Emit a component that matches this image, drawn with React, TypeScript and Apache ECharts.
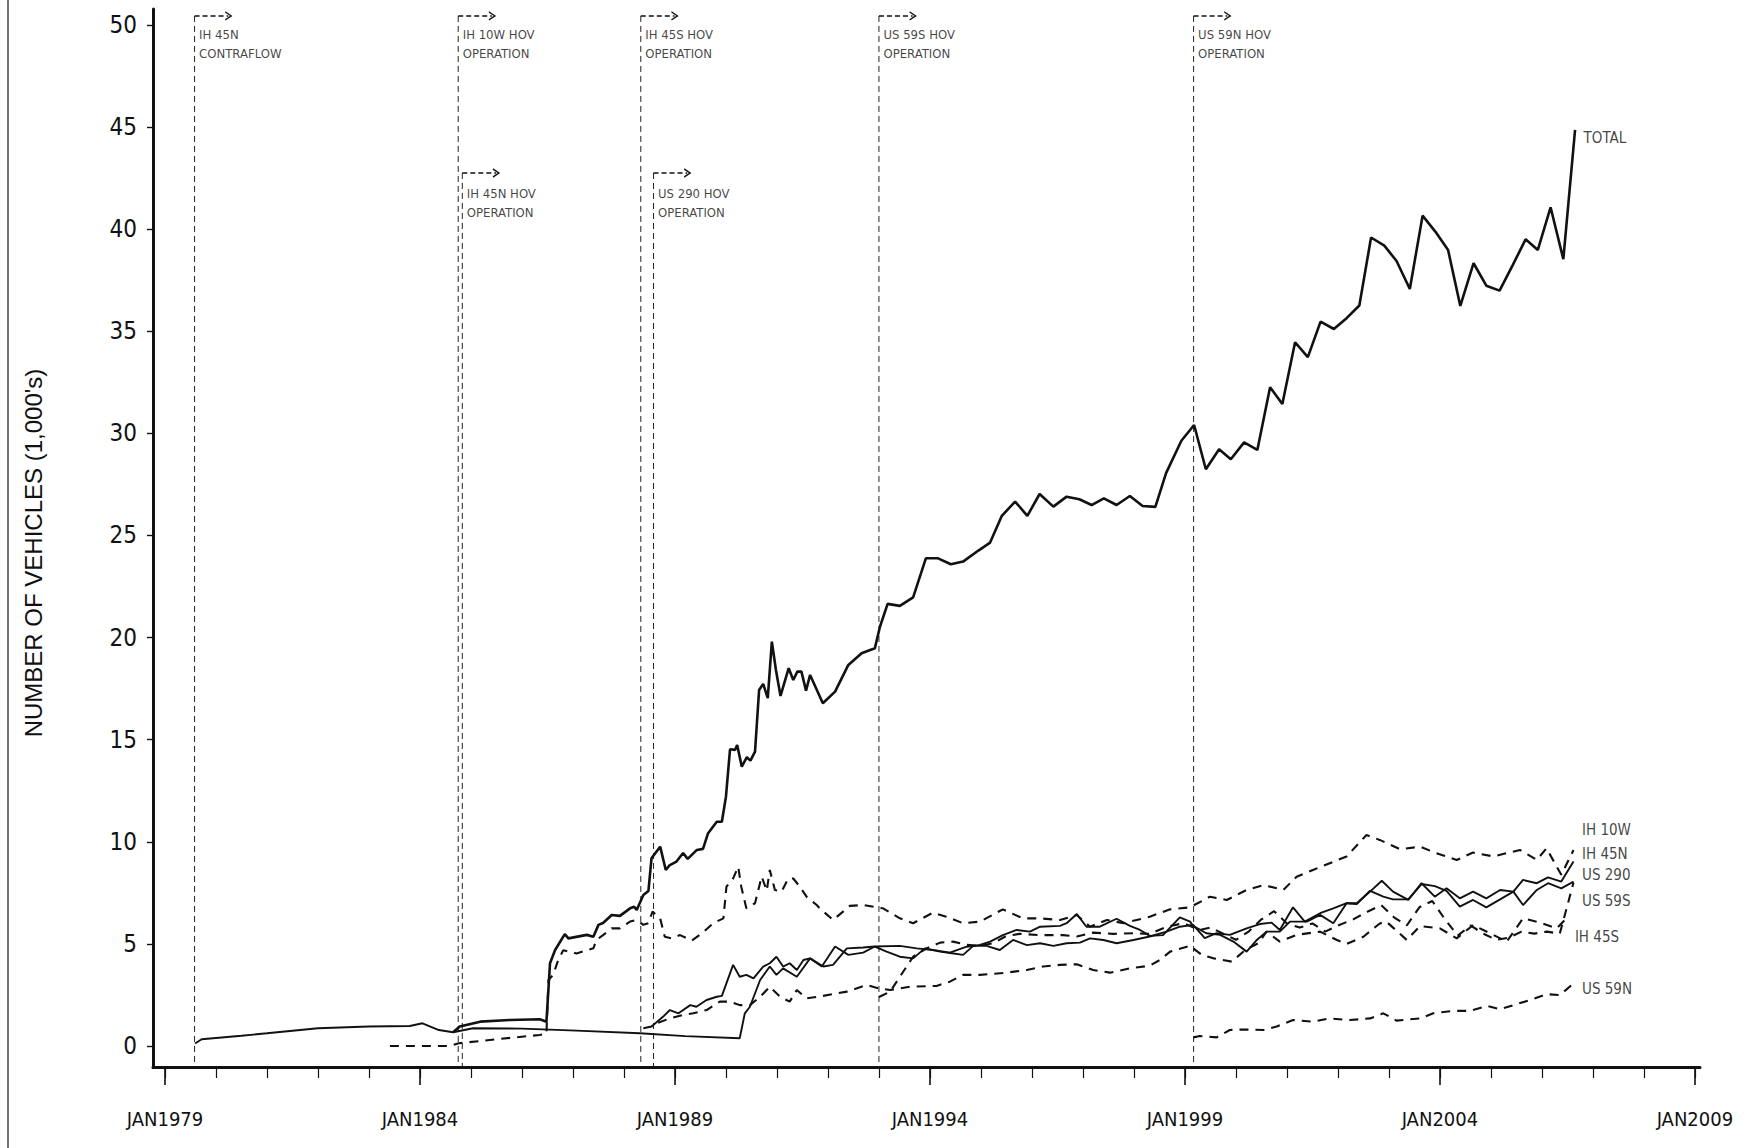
import React, { useEffect, useRef } from "react";
import * as echarts from "echarts";

// ---------- axis settings ----------
const X_MIN = 1978.765;
const X_MAX = 2009.1;
const Y_MIN = -1.03;
const Y_MAX = 50.78;
const majorYears = [1979, 1984, 1989, 1994, 1999, 2004, 2009];
const minorYears = Array.from({ length: 31 }, (_, i) => 1979 + i);
const yTicks = [0, 5, 10, 15, 20, 25, 30, 35, 40, 45, 50];

// ---------- HOV events ----------
const eventYears = [1979.58, 1984.75, 1984.83, 1988.33, 1988.58, 1993.0, 1999.17];
const eventTier = [1, 1, 2, 1, 2, 1, 1];
const eventText = [
  "IH 45N\nCONTRAFLOW",
  "IH 10W HOV\nOPERATION",
  "IH 45N HOV\nOPERATION",
  "IH 45S HOV\nOPERATION",
  "US 290 HOV\nOPERATION",
  "US 59S HOV\nOPERATION",
  "US 59N HOV\nOPERATION",
];

// ---------- series data: [year, thousands of vehicles] ----------
const total = [[1984.65,0.67],[1984.78,0.95],[1985.18,1.19],[1985.76,1.27],[1986.35,1.31],[1986.48,1.19],[1986.55,4.05],[1986.65,4.7],[1986.84,5.48],[1986.91,5.27],[1987.27,5.44],[1987.4,5.35],[1987.5,5.93],[1987.59,6.02],[1987.76,6.41],[1987.92,6.37],[1988.12,6.74],[1988.2,6.82],[1988.25,6.66],[1988.38,7.39],[1988.48,7.59],[1988.54,9.19],[1988.71,9.76],[1988.82,8.62],[1988.9,8.86],[1989.03,9.03],[1989.16,9.45],[1989.25,9.16],[1989.43,9.6],[1989.55,9.65],[1989.65,10.42],[1989.82,10.98],[1989.92,10.98],[1990.0,12.21],[1990.08,14.53],[1990.18,14.5],[1990.22,14.74],[1990.31,13.68],[1990.41,14.14],[1990.48,13.97],[1990.57,14.41],[1990.65,17.43],[1990.73,17.73],[1990.82,17.03],[1990.9,19.8],[1990.98,18.41],[1991.07,17.14],[1991.23,18.5],[1991.32,17.92],[1991.4,18.33],[1991.48,18.33],[1991.57,17.4],[1991.65,18.17],[1991.9,16.78],[1992.14,17.35],[1992.4,18.66],[1992.66,19.23],[1992.92,19.48],[1993.02,20.53],[1993.17,21.65],[1993.41,21.55],[1993.67,21.97],[1993.92,23.88],[1994.16,23.88],[1994.41,23.59],[1994.65,23.72],[1994.95,24.26],[1995.18,24.65],[1995.41,25.96],[1995.67,26.66],[1995.91,25.96],[1996.15,27.03],[1996.42,26.41],[1996.68,26.9],[1996.93,26.77],[1997.17,26.49],[1997.41,26.82],[1997.66,26.49],[1997.92,26.93],[1998.17,26.44],[1998.42,26.4],[1998.63,28.05],[1998.93,29.64],[1999.18,30.41],[1999.41,28.24],[1999.67,29.22],[1999.9,28.73],[2000.16,29.56],[2000.42,29.19],[2000.67,32.26],[2000.91,31.44],[2001.16,34.46],[2001.41,33.73],[2001.66,35.47],[2001.92,35.11],[2002.17,35.64],[2002.42,36.26],[2002.65,39.59],[2002.91,39.19],[2003.15,38.44],[2003.41,37.07],[2003.66,40.66],[2003.91,39.88],[2004.16,38.98],[2004.4,36.24],[2004.66,38.33],[2004.91,37.23],[2005.17,36.99],[2005.43,38.25],[2005.68,39.5],[2005.92,38.98],[2006.17,41.07],[2006.42,38.53],[2006.65,44.86]];

const ih10w = [[1983.41,0.0],[1984.59,0.0],[1984.76,0.13],[1985.5,0.33],[1986.35,0.54],[1986.48,0.6],[1986.52,3.23],[1986.61,3.48],[1986.71,4.2],[1986.81,4.69],[1987.07,4.53],[1987.27,4.69],[1987.4,4.78],[1987.46,5.19],[1987.59,5.43],[1987.76,5.76],[1987.92,5.76],[1988.12,6.09],[1988.25,6.17],[1988.38,5.93],[1988.48,6.01],[1988.56,6.58],[1988.71,6.25],[1988.8,5.35],[1988.93,5.27],[1989.1,5.43],[1989.33,5.16],[1989.53,5.52],[1989.75,6.01],[1989.95,6.25],[1990.01,7.8],[1990.14,8.2],[1990.24,8.78],[1990.3,7.8],[1990.4,6.74],[1990.57,6.99],[1990.7,8.3],[1990.8,7.6],[1990.86,8.62],[1990.96,7.64],[1991.09,7.56],[1991.22,8.2],[1991.32,8.2],[1991.45,7.8],[1991.58,7.31],[1991.78,6.9],[1991.84,6.74],[1992.1,6.17],[1992.43,6.86],[1992.69,6.9],[1993.08,6.74],[1993.41,6.25],[1993.67,6.01],[1994.06,6.53],[1994.32,6.33],[1994.65,6.01],[1994.98,6.09],[1995.43,6.69],[1995.82,6.25],[1996.16,6.25],[1996.55,6.17],[1996.88,6.41],[1997.14,5.84],[1997.47,6.17],[1997.8,6.01],[1998.31,6.33],[1998.71,6.69],[1999.1,6.79],[1999.49,7.31],[1999.82,7.15],[2000.21,7.64],[2000.54,7.88],[2000.93,7.64],[2001.19,8.29],[2001.51,8.62],[2001.84,8.95],[2002.17,9.28],[2002.56,10.33],[2002.82,10.09],[2003.22,9.63],[2003.61,9.76],[2003.93,9.44],[2004.33,9.11],[2004.65,9.47],[2005.05,9.28],[2005.57,9.6],[2005.9,9.11],[2006.09,9.68],[2006.38,8.38],[2006.62,9.6]];

const ih45n = [[1979.59,0.12],[1979.72,0.33],[1980.5,0.5],[1981,0.62],[1982,0.87],[1983,0.95],[1983.8,0.98],[1984.05,1.11],[1984.37,0.78],[1984.65,0.67],[1985.04,0.87],[1986,0.85],[1987.07,0.75],[1988.31,0.62],[1989.2,0.48],[1990.27,0.38],[1990.37,1.6],[1990.47,1.92],[1990.67,3.23],[1990.86,3.89],[1990.99,3.48],[1991.12,3.8],[1991.39,3.39],[1991.65,4.29],[1991.88,3.89],[1992.14,4.87],[1992.4,4.46],[1992.69,4.57],[1992.92,4.87],[1993.15,4.62],[1993.41,4.37],[1993.67,4.29],[1993.9,4.78],[1994.2,4.62],[1994.43,4.54],[1994.65,4.46],[1994.85,4.9],[1995.11,4.9],[1995.37,4.7],[1995.63,5.19],[1995.9,4.94],[1996.16,5.03],[1996.42,4.9],[1996.68,5.03],[1996.94,5.06],[1997.14,5.27],[1997.4,5.19],[1997.66,5.03],[1997.99,5.19],[1998.31,5.36],[1998.64,5.6],[1998.9,5.84],[1999.16,5.93],[1999.39,5.28],[1999.62,5.52],[1999.88,5.44],[2000.21,5.76],[2000.47,5.97],[2000.7,6.04],[2000.86,5.68],[2001.12,6.79],[2001.35,6.09],[2001.65,6.5],[2001.91,6.74],[2002.17,6.99],[2002.37,6.95],[2002.63,7.6],[2002.89,7.31],[2003.08,7.18],[2003.38,7.18],[2003.64,7.93],[2003.9,7.83],[2004.13,7.6],[2004.39,6.82],[2004.65,7.15],[2004.91,6.79],[2005.18,7.18],[2005.44,7.56],[2005.63,8.13],[2005.9,7.97],[2006.12,8.26],[2006.38,8.05],[2006.62,9.03]];

const us290 = [[1988.54,0.95],[1988.77,1.44],[1988.9,1.76],[1989.07,1.6],[1989.3,2.0],[1989.42,1.92],[1989.62,2.25],[1989.82,2.41],[1989.92,2.45],[1990.14,3.97],[1990.27,3.39],[1990.4,3.48],[1990.54,3.31],[1990.73,3.89],[1990.86,4.05],[1990.99,4.37],[1991.12,3.89],[1991.25,4.05],[1991.39,3.72],[1991.52,4.21],[1991.65,4.29],[1991.91,3.89],[1992.1,3.97],[1992.37,4.78],[1992.69,4.82],[1992.92,4.87],[1993.41,4.9],[1993.74,4.78],[1994.06,4.7],[1994.39,4.57],[1994.72,4.86],[1994.98,4.95],[1995.18,5.11],[1995.43,5.43],[1995.7,5.68],[1995.96,5.6],[1996.16,5.84],[1996.55,5.88],[1996.68,6.01],[1996.88,6.46],[1997.07,5.84],[1997.33,5.84],[1997.66,6.23],[1997.92,5.88],[1998.12,5.68],[1998.31,5.39],[1998.57,5.43],[1998.9,6.3],[1999.1,6.09],[1999.16,5.88],[1999.42,5.52],[1999.69,5.44],[1999.95,5.11],[2000.21,4.62],[2000.41,5.19],[2000.6,5.6],[2000.86,5.6],[2001.06,6.09],[2001.39,6.09],[2001.65,6.42],[2001.91,6.01],[2002.17,6.99],[2002.37,6.99],[2002.63,7.56],[2002.86,8.09],[2003.08,7.56],[2003.38,7.15],[2003.64,7.97],[2003.9,7.31],[2004.13,7.72],[2004.39,7.23],[2004.65,7.56],[2004.91,7.23],[2005.18,7.64],[2005.44,7.56],[2005.63,6.9],[2005.9,7.64],[2006.12,7.97],[2006.38,7.72],[2006.62,8.05]];

const us59s = [[1993.0,2.4],[1993.22,2.66],[1993.41,3.39],[1993.67,4.37],[1993.93,4.78],[1994.2,5.06],[1994.45,5.11],[1994.72,4.95],[1994.98,4.9],[1995.24,5.03],[1995.5,5.39],[1995.76,5.49],[1996.16,5.43],[1996.61,5.43],[1996.88,5.36],[1997.2,5.55],[1997.59,5.49],[1997.99,5.52],[1998.31,5.49],[1998.64,5.84],[1998.97,6.01],[1999.29,5.68],[1999.5,5.8],[1999.75,5.5],[2000.0,5.2],[2000.25,5.6],[2000.5,6.2],[2000.75,6.6],[2001.0,6.0],[2001.25,5.8],[2001.5,6.0],[2001.75,5.6],[2002.0,5.9],[2002.3,6.2],[2002.6,6.6],[2002.85,6.9],[2003.1,6.3],[2003.35,5.9],[2003.6,6.8],[2003.85,7.1],[2004.1,6.2],[2004.35,5.4],[2004.6,5.9],[2004.85,5.5],[2005.1,5.2],[2005.35,5.3],[2005.6,5.6],[2005.85,5.5],[2006.1,5.6],[2006.35,5.5],[2006.62,8.0]];

const ih45s = [[1988.38,0.87],[1988.54,0.95],[1988.64,1.11],[1988.9,1.35],[1989.16,1.52],[1989.36,1.6],[1989.62,1.76],[1989.88,2.17],[1990.08,2.17],[1990.27,2.0],[1990.47,2.0],[1990.67,2.41],[1990.86,2.9],[1991.06,2.41],[1991.25,2.17],[1991.39,2.74],[1991.58,2.33],[1991.9,2.45],[1992.37,2.66],[1992.76,2.99],[1993.0,2.82],[1993.22,2.74],[1993.61,2.9],[1994.13,2.94],[1994.39,3.15],[1994.65,3.48],[1994.98,3.48],[1995.5,3.59],[1995.9,3.72],[1996.22,3.89],[1996.55,3.97],[1996.88,4.0],[1997.2,3.72],[1997.53,3.59],[1997.92,3.8],[1998.31,3.93],[1998.51,4.21],[1998.71,4.62],[1999.1,4.9],[1999.33,4.46],[1999.56,4.29],[1999.92,4.13],[2000.18,4.7],[2000.44,5.03],[2000.6,5.6],[2000.86,5.11],[2001.19,5.44],[2001.65,5.6],[2001.98,5.19],[2002.17,5.0],[2002.5,5.35],[2002.82,6.0],[2002.95,6.09],[2003.35,5.19],[2003.61,5.87],[2004.0,5.76],[2004.33,5.27],[2004.65,5.92],[2004.98,5.52],[2005.31,5.11],[2005.63,6.25],[2005.96,6.04],[2006.29,5.76],[2006.48,6.25]];

const us59n = [[1999.17,0.42],[1999.29,0.49],[1999.62,0.42],[1999.88,0.78],[2000.14,0.81],[2000.54,0.78],[2000.8,0.95],[2001.12,1.27],[2001.51,1.19],[2001.84,1.35],[2002.23,1.27],[2002.63,1.35],[2002.89,1.6],[2003.15,1.24],[2003.61,1.35],[2003.87,1.6],[2004.26,1.72],[2004.59,1.72],[2004.92,1.96],[2005.18,1.8],[2005.44,2.0],[2005.77,2.25],[2006.09,2.54],[2006.35,2.49],[2006.62,3.06]];

const seriesNames = ["TOTAL", "IH 10W", "IH 45N", "US 290", "US 59S", "IH 45S", "US 59N"];
const seriesData = [total, ih10w, ih45n, us290, us59s, ih45s, us59n];
const seriesDashed = [false, true, false, false, true, true, true];
// vertical shift (px) of the end labels so they don't overlap
const endLabelShift = [8, -20, -8, -7, 18, 19, 6];

const INK = "#111";
const FONT_N = "'DejaVu Sans Condensed', 'Liberation Sans Narrow', 'Arial Narrow', 'Liberation Sans', sans-serif";
const FONT = "'Liberation Sans', Arial, sans-serif";

export default function App() {
  const ref = useRef<HTMLDivElement>(null);

  useEffect(() => {
    if (!ref.current) return;
    const chart = echarts.init(ref.current, undefined, { renderer: "svg" });

    const topV = (tier: number) => (tier === 1 ? 50.44 : 42.75);
    const textV = (tier: number) => (tier === 1 ? 49.95 : 42.2);

    const series: any[] = [];

    seriesData.forEach((d, i) => {
      series.push({
        type: "line",
        name: seriesNames[i],
        data: d,
        showSymbol: false,
        symbol: "none",
        silent: true,
        z: 5,
        lineStyle: {
          color: INK,
          width: i === 0 ? 2.6 : seriesDashed[i] ? 2.1 : 1.9,
          type: seriesDashed[i] ? [9, 7] : "solid",
          cap: "butt",
        },
      });
    });

    series.push({
      type: "scatter",
      silent: true,
      symbolSize: 1,
      itemStyle: { color: "transparent" },
      z: 6,
      data: seriesData.map((d, i) => ({
        value: d[d.length - 1],
        label: {
          show: true,
          position: "right",
          distance: 8,
          offset: [0, endLabelShift[i]],
          formatter: seriesNames[i],
          color: INK,
          fontSize: 15,
          fontFamily: FONT_N,
        },
      })),
    });

    eventYears.forEach((yr, i) => {
      const tv = topV(eventTier[i]);
      series.push({
        type: "line",
        data: [[yr, tv], [yr, Y_MIN]],
        showSymbol: false,
        symbol: "none",
        silent: true,
        z: 3,
        lineStyle: { color: "#222", width: 1, type: [6, 4] },
      });
      series.push({
        type: "line",
        data: [
          { value: [yr, tv], symbol: "none" },
          { value: [yr + 0.66, tv], symbol: "path://M0,0L10,6L0,12", symbolSize: [6, 8] },
        ],
        showSymbol: true,
        silent: true,
        z: 3,
        itemStyle: { color: "none", borderColor: INK, borderWidth: 1.3 },
        lineStyle: { color: INK, width: 1.4, type: [5, 3] },
      });
    });

    series.push({
      type: "scatter",
      silent: true,
      symbolSize: 1,
      itemStyle: { color: "transparent" },
      z: 6,
      data: eventYears.map((yr, i) => ({
        value: [yr, textV(eventTier[i])],
        label: {
          show: true,
          position: [5, 0],
          align: "left",
          verticalAlign: "top",
          formatter: eventText[i],
          color: INK,
          fontSize: 13,
          lineHeight: 19,
          fontFamily: FONT_N,
        },
      })),
    });

    const option: any = {
      animation: false,
      backgroundColor: "#fff",
      grid: { left: 153, right: 47, top: 9, bottom: 81, containLabel: false },
      xAxis: [
        {
          type: "value",
          min: X_MIN,
          max: X_MAX,
          position: "bottom",
          axisLine: { show: true, onZero: false, lineStyle: { color: INK, width: 3 } },
          axisTick: { show: true, customValues: majorYears, length: 18, lineStyle: { color: INK, width: 1.6 } },
          axisLabel: {
            show: true,
            customValues: majorYears,
            formatter: (v: number) => "JAN" + Math.round(v),
            margin: 42,
            fontSize: 20,
            fontFamily: FONT_N,
            color: INK,
          },
          splitLine: { show: false },
        },
        {
          type: "value",
          min: X_MIN,
          max: X_MAX,
          position: "bottom",
          axisLine: { show: false, onZero: false },
          axisTick: { show: true, customValues: minorYears, length: 11, lineStyle: { color: INK, width: 1.2 } },
          axisLabel: { show: false },
          splitLine: { show: false },
        },
      ],
      yAxis: {
        type: "value",
        min: Y_MIN,
        max: Y_MAX,
        axisLine: { show: true, onZero: false, lineStyle: { color: INK, width: 3 } },
        axisTick: { show: true, customValues: yTicks, length: 6, lineStyle: { color: INK, width: 1.4 } },
        axisLabel: {
          show: true,
          customValues: yTicks,
          margin: 16,
          fontSize: 24,
          fontFamily: FONT_N,
          color: INK,
        },
        splitLine: { show: false },
      },
      graphic: [
        {
          type: "line",
          shape: { x1: 8, y1: 0, x2: 8, y2: 1148 },
          style: { stroke: "#444", lineWidth: 1.5 },
          silent: true,
        },
        {
          type: "text",
          x: 33,
          y: 553,
          rotation: Math.PI / 2,
          style: {
            text: "NUMBER OF VEHICLES (1,000's)",
            font: "24px " + FONT,
            fill: INK,
            align: "center",
            verticalAlign: "middle",
          },
          silent: true,
        },
      ],
      series,
    };

    chart.setOption(option);
    return () => chart.dispose();
  }, []);

  return (
    <div
      ref={ref}
      style={{ position: "fixed", left: 0, top: 0, width: 1747, height: 1148, background: "#fff" }}
    />
  );
}
